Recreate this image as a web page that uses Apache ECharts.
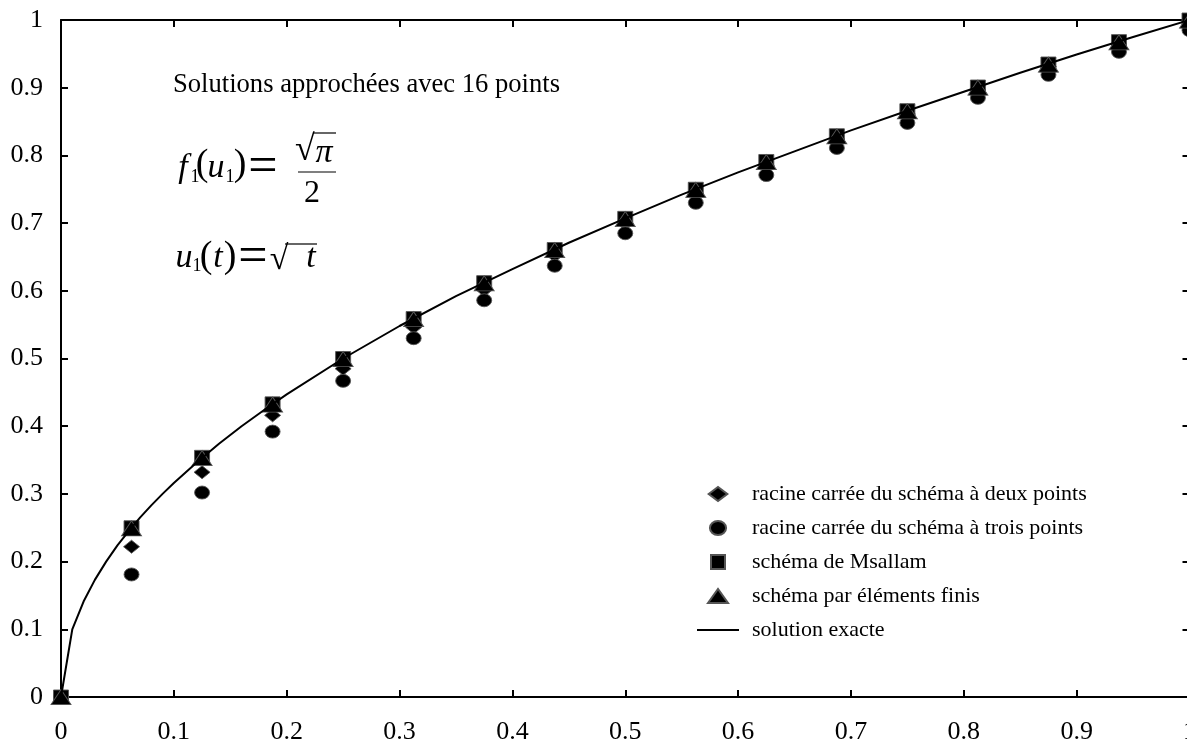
<!DOCTYPE html>
<html>
<head>
<meta charset="utf-8">
<script src="https://cdn.jsdelivr.net/npm/echarts@6/dist/echarts.min.js"></script>
<style>html,body{margin:0;padding:0;background:#fff;overflow:hidden}#c{width:1187px;height:743px}</style>
</head>
<body>
<div id="c"></div>
<script>
// Nodes (16 intervals)
const tNodes = [0, 0.0625, 0.125, 0.1875, 0.25, 0.3125, 0.375, 0.4375, 0.5, 0.5625, 0.625, 0.6875, 0.75, 0.8125, 0.875, 0.9375, 1];
const diamondVals = [0, 0.222, 0.332, 0.416, 0.485, 0.546, 0.601, 0.652, 0.699, 0.743, 0.785, 0.824, 0.861, 0.897, 0.931, 0.965, 0.997];
const circleVals = [0, 0.181, 0.302, 0.392, 0.467, 0.530, 0.586, 0.637, 0.685, 0.730, 0.771, 0.811, 0.848, 0.885, 0.919, 0.953, 0.985];
const squareVals = [0, 0.250, 0.354, 0.433, 0.500, 0.559, 0.612, 0.661, 0.707, 0.750, 0.791, 0.829, 0.866, 0.901, 0.935, 0.968, 1.000];
const triangleVals = [0, 0.249, 0.353, 0.432, 0.499, 0.558, 0.611, 0.660, 0.706, 0.749, 0.790, 0.828, 0.865, 0.900, 0.934, 0.967, 0.999];
// Exact solution curve
const tExact = [0, 0.01, 0.02, 0.03, 0.04, 0.05, 0.06, 0.07, 0.08, 0.09, 0.1, 0.12, 0.14, 0.16, 0.18, 0.2, 0.25, 0.3, 0.35, 0.4, 0.45, 0.5, 0.55, 0.6, 0.65, 0.7, 0.75, 0.8, 0.85, 0.9, 0.95, 1];
const yExact = [0, 0.1, 0.141, 0.173, 0.2, 0.224, 0.245, 0.265, 0.283, 0.3, 0.316, 0.346, 0.374, 0.4, 0.424, 0.447, 0.5, 0.548, 0.592, 0.632, 0.671, 0.707, 0.742, 0.775, 0.806, 0.837, 0.866, 0.894, 0.922, 0.949, 0.975, 1];
const xTicks = [0, 0.1, 0.2, 0.3, 0.4, 0.5, 0.6, 0.7, 0.8, 0.9, 1];
const yTicks = [0, 0.1, 0.2, 0.3, 0.4, 0.5, 0.6, 0.7, 0.8, 0.9, 1];
const seriesNames = ['racine carrée du schéma à deux points', 'racine carrée du schéma à trois points', 'schéma de Msallam', 'schéma par éléments finis', 'solution exacte'];
const titleText = 'Solutions approchées avec 16 points';

const FONT = 'Liberation Serif';
const zip = (a, b) => a.map((v, i) => [v, b[i]]);
const mk = {color: '#000', borderColor: '#555', borderWidth: 0.9, opacity: 1};
const fmt = v => String(Math.round(v * 10) / 10);

function txt(x, y, s, size, opts) {
  return {type: 'text', x: x, y: y, z: 100, style: Object.assign({text: s, font: (opts && opts.italic ? 'italic ' : '') + size + 'px "' + FONT + '"', fill: '#000', align: 'center', verticalAlign: 'middle'}, opts && opts.style || {})};
}

const el = document.getElementById('c');
const chart = echarts.init(el, null, {renderer: 'canvas', width: 1187, height: 743});
const axisCommon = {
  type: 'value', min: 0, max: 1, interval: 0.1,
  axisLine: {show: true, onZero: false, lineStyle: {color: '#000', width: 2}},
  axisTick: {show: true, inside: true, length: 7, lineStyle: {color: '#000', width: 2}},
  splitLine: {show: false}
};
chart.setOption({
  animation: false,
  backgroundColor: '#fff',
  textStyle: {fontFamily: FONT},
  grid: {left: 61, right: -2.5, top: 20, bottom: 46, containLabel: false, outerBoundsMode: 'none'},
  xAxis: [
    Object.assign({}, axisCommon, {position: 'bottom',
      axisLabel: {margin: 22, fontSize: 26, color: '#000', fontFamily: FONT, formatter: fmt, showMaxLabel: true}}),
    Object.assign({}, axisCommon, {position: 'top', axisLabel: {show: false}})
  ],
  yAxis: [
    Object.assign({}, axisCommon, {position: 'left',
      axisLabel: {margin: 18, fontSize: 26, color: '#000', fontFamily: FONT, formatter: fmt}}),
    Object.assign({}, axisCommon, {position: 'right', axisLabel: {show: false}})
  ],
  legend: {
    orient: 'vertical', left: 697, top: 483, padding: 0,
    itemWidth: 42, itemHeight: 14, itemGap: 12,
    symbolKeepAspect: true,
    textStyle: {fontSize: 22, color: '#000', fontFamily: FONT, padding: [0, 0, 0, 8]},
    data: [
      {name: seriesNames[0], icon: 'path://M0,6L8,0L16,6L8,12Z'},
      {name: seriesNames[1], icon: 'path://M0,6.5A7.5,6.5 0 1 0 15,6.5A7.5,6.5 0 1 0 0,6.5Z'},
      {name: seriesNames[2], icon: 'path://M0,0L14,0L14,14L0,14Z'},
      {name: seriesNames[3], icon: 'path://M0,14L10,0L20,14Z'},
      {name: seriesNames[4], icon: 'path://M0,0L42,0L42,2L0,2Z', itemStyle: {color: '#000', borderWidth: 0}}
    ]
  },
  series: [
    {name: seriesNames[0], type: 'scatter', data: zip(tNodes, diamondVals), symbol: 'diamond', symbolSize: [16, 13], itemStyle: mk, clip: false, z: 2},
    {name: seriesNames[1], type: 'scatter', data: zip(tNodes, circleVals), symbol: 'circle', symbolSize: [15, 13], itemStyle: mk, clip: false, z: 2},
    {name: seriesNames[2], type: 'scatter', data: zip(tNodes, squareVals), symbol: 'rect', symbolSize: [15, 14], itemStyle: mk, clip: false, z: 2},
    {name: seriesNames[3], type: 'scatter', data: zip(tNodes, triangleVals), symbol: 'triangle', symbolSize: [20, 15], itemStyle: mk, clip: false, z: 2},
    {name: seriesNames[4], type: 'line', data: zip(tExact, yExact), showSymbol: false, symbol: 'none', smooth: false,
      lineStyle: {color: '#000', width: 2}, itemStyle: {color: '#000'}, z: 3}
  ],
  graphic: [
    txt(173, 85, titleText, 26.6, {style: {align: 'left'}}),
    // f1(u1) = sqrt(pi)/2
    txt(183, 168, 'f', 34, {italic: true}),
    txt(195, 177, '1', 18),
    txt(202, 165, '(', 38),
    txt(216, 168, 'u', 34, {italic: true}),
    txt(230, 177, '1', 18),
    txt(240, 165, ')', 38),
    txt(263, 168, '=', 52),
    txt(305, 151, '√', 36),
    txt(324, 153, 'π', 34, {italic: true}),
    {type: 'line', z: 100, shape: {x1: 313, y1: 133, x2: 336, y2: 133}, style: {stroke: '#000', lineWidth: 1.2}},
    {type: 'line', z: 100, shape: {x1: 298, y1: 172, x2: 336, y2: 172}, style: {stroke: '#000', lineWidth: 1.2}},
    txt(312, 194, '2', 32),
    // u1(t) = sqrt(t)
    txt(184, 258, 'u', 34, {italic: true}),
    txt(197, 266, '1', 18),
    txt(206, 257, '(', 38),
    txt(218, 258, 't', 34, {italic: true}),
    txt(230, 257, ')', 38),
    txt(253, 258, '=', 52),
    txt(279, 260, '√', 34),
    txt(311, 258, 't', 34, {italic: true}),
    {type: 'line', z: 100, shape: {x1: 285, y1: 244, x2: 317, y2: 244}, style: {stroke: '#000', lineWidth: 1.2}}
  ]
});
</script>
</body>
</html>
